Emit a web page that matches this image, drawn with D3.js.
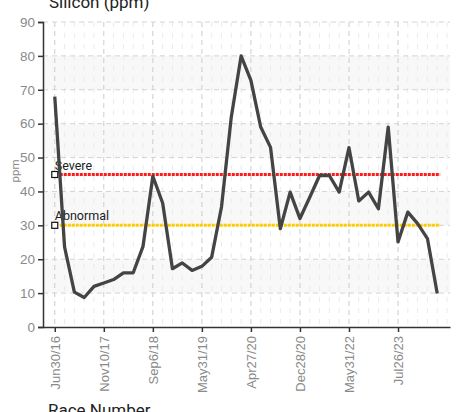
<!DOCTYPE html>
<html><head><meta charset="utf-8">
<script src="https://cdn.jsdelivr.net/npm/d3@7"></script>
<style>body{margin:0;background:#fff;}svg{display:block;font-family:Roboto,"Open Sans",sans-serif;}</style>
</head><body>
<svg id="c" width="458" height="412"></svg>
<script>
const values = [68,23.6,10.3,8.7,12,13,14,16,16,23.8,44.5,36.6,17.2,18.9,16.7,17.9,20.6,35.4,62,80,72.8,59,53,29,39.8,32,38.3,44.7,44.7,39.8,52.9,37.2,39.8,34.9,59,25.1,33.9,30.5,26.1,9.9];
const tickIndex = [0,5,10,15,20,25,30,35];
const tickLabels = ["Jun30/16","Nov10/17","Sep6/18","May31/19","Apr27/20","Dec28/20","May31/22","Jul26/23"];
const yTicks = [0,10,20,30,40,50,60,70,80,90];
const limitNames = ["Severe","Abnormal"];
const limitValues = [45,30];
const limitColors = ["#ff1a1a","#ffcc00"];

const svg = d3.select("#c");
const x = d3.scaleLinear().domain([-1.2,40.3]).range([43,450]);
const y = d3.scaleLinear().domain([0,90]).range([327,22]);

const g = svg.append("g");
for (let i=0;i<yTicks.length-1;i++){
  if (i%2===1) g.append("rect").attr("x",x(-1.2)).attr("width",x(40.3)-x(-1.2))
    .attr("y",y(yTicks[i+1])).attr("height",y(yTicks[i])-y(yTicks[i+1])).attr("fill","#f8f8f8");
}
d3.range(0,41).filter(i=>!tickIndex.includes(i)).forEach(i=>{
  g.append("line").attr("x1",x(i)).attr("x2",x(i)).attr("y1",y(90)).attr("y2",y(0))
   .attr("stroke","#ebebeb").attr("stroke-dasharray","5,6");
});
tickIndex.forEach(i=>{
  g.append("line").attr("x1",x(i)).attr("x2",x(i)).attr("y1",y(90)).attr("y2",y(0))
   .attr("stroke","#cccccc").attr("stroke-dasharray","5,4");
});
yTicks.slice(1).forEach(v=>{
  g.append("line").attr("x1",x(-1.2)).attr("x2",x(40.3)).attr("y1",y(v)).attr("y2",y(v))
   .attr("stroke","#d4d4d4").attr("stroke-dasharray","5,4");
});

const ya = svg.append("g").attr("transform",`translate(${x(-1.2)},0)`)
  .call(d3.axisLeft(y).tickValues(yTicks).tickSize(5).tickPadding(3));
ya.selectAll("text").attr("fill","#8a8a8a").style("font-size","13.5px");
const xa = svg.append("g").attr("transform",`translate(0,${y(0)})`)
  .call(d3.axisBottom(x).tickValues(tickIndex).tickFormat((d,i)=>tickLabels[i]).tickSize(5).tickSizeOuter(0));
xa.selectAll("text").attr("transform","rotate(-90)").attr("x",-9).attr("y",0).attr("dy","0.35em")
  .style("text-anchor","end").attr("fill","#8a8a8a").style("font-size","13px");
[ya,xa].forEach(a=>{a.select(".domain").attr("stroke","#333").attr("stroke-width",1.5);
  a.selectAll(".tick line").attr("stroke","#333").attr("stroke-width",1.5);});

limitValues.forEach((v,i)=>{
  svg.append("line").attr("x1",x(0)+5).attr("x2",x(39.3)).attr("y1",y(v)).attr("y2",y(v))
    .attr("stroke",limitColors[i]).attr("stroke-width",3).attr("stroke-dasharray","3,1");
  svg.append("rect").attr("x",x(0)-3).attr("y",y(v)-3).attr("width",6).attr("height",6)
    .attr("fill","#fff").attr("stroke","#111").attr("stroke-width",1.2);
  svg.append("text").attr("x",x(0)).attr("y",y(v)-5).text(limitNames[i])
    .attr("fill","#222").style("font-size","12.5px");
});

svg.append("path").datum(values)
  .attr("d",d3.line().x((d,i)=>x(i)).y(d=>y(d)))
  .attr("fill","none").attr("stroke","#444").attr("stroke-width",3.3).attr("stroke-linejoin","round");

svg.append("text").attr("x",49).attr("y",8).text("Silicon (ppm)").style("font-size","17px").attr("fill","#222");
svg.append("text").attr("x",48).attr("y",416).text("Race Number").style("font-size","17px").attr("fill","#222");
svg.append("text").attr("transform","translate(19,171) rotate(-90)").attr("text-anchor","middle")
  .text("ppm").style("font-size","11.5px").attr("fill","#8a8a8a");
</script>
</body></html>
